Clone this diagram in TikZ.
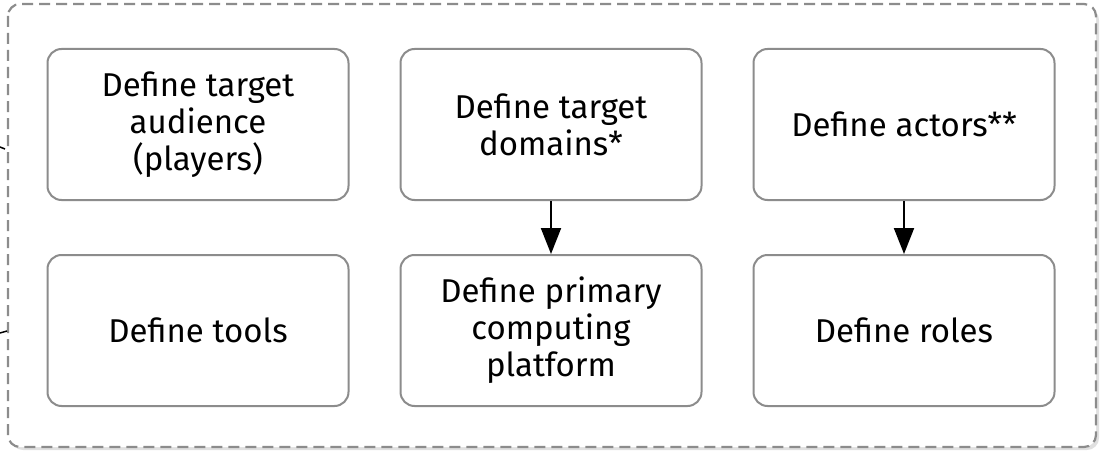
\documentclass[tikz,border=0pt]{standalone}
\usepackage{fontspec}
\setmainfont{Fira Sans}
\usetikzlibrary{arrows.meta}
\begin{document}
\begin{tikzpicture}[x=1pt,y=-1pt,
  stepbox/.style={draw=black!45, line width=2pt, rounded corners=14pt, minimum width=301pt, minimum height=151pt, align=center, inner sep=0pt, font=\fontsize{33}{37}\selectfont, text=black},
  flow/.style={-{Triangle[length=26pt,width=20pt]}, line width=2pt, black}]
\useasboundingbox (0,0) rectangle (1100,452);
\fill[black!12, rounded corners=12pt] (11,8) rectangle (1099,450);
\draw[black!45, line width=2.2pt, dash pattern=on 11pt off 6pt, rounded corners=12pt, fill=white] (8,4) rectangle (1096,447);
\node[stepbox] (a) at (198,124.5) {Define target\\audience\\(players)};
\node[stepbox] (b) at (551,124.5) {Define target\\domains*};
\node[stepbox] (c) at (904,124.5) {Define actors**};
\node[stepbox] (d) at (198,330.5) {Define tools};
\node[stepbox] (e) at (551,330.5) {Define primary\\computing\\platform};
\node[stepbox] (f) at (904,330.5) {Define roles};
\draw[flow] (b) -- (e);
\draw[flow] (c) -- (f);
\coordinate (s1) at (0,147);
\coordinate (s1e) at (5,149);
\coordinate (s2) at (0,333);
\coordinate (s2e) at (7,331);
\draw[line width=1.5pt] (s1) -- (s1e);
\draw[line width=1.5pt] (s2) -- (s2e);
\end{tikzpicture}
\end{document}
